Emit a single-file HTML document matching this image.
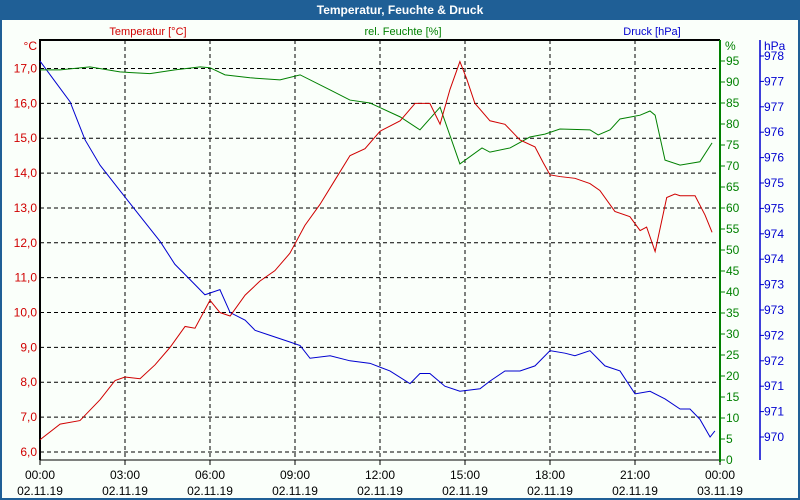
<!DOCTYPE html>
<html><head><meta charset="utf-8"><style>
body{margin:0;background:#fff;font-family:"Liberation Sans",sans-serif;}
svg{display:block}
</style></head><body>
<svg id="c" width="800" height="500" xmlns="http://www.w3.org/2000/svg">
<rect x="0" y="0" width="800" height="500" fill="#1f5f96"/>
<rect x="2" y="20" width="796" height="478" fill="#fafffa"/>
<text x="400" y="14" text-anchor="middle" fill="#fff" font-size="12" font-weight="bold">Temperatur, Feuchte &amp; Druck</text>
<text x="148" y="35" text-anchor="middle" fill="#d00000" font-size="11">Temperatur [°C]</text>
<text x="403" y="35" text-anchor="middle" fill="#008000" font-size="11">rel. Feuchte [%]</text>
<text x="652" y="35" text-anchor="middle" fill="#0000d0" font-size="11">Druck [hPa]</text>
<text x="37" y="50" text-anchor="end" fill="#d00000" font-size="12">°C</text>
<text x="725" y="50" fill="#008000" font-size="12">%</text>
<text x="764" y="50" fill="#0000d0" font-size="12">hPa</text>
<g id="grid"></g><g id="axes"></g><g id="series"></g>
</svg>
<script>
const tempHours=[0,0.71,1.41,2.12,2.65,3.0,3.53,4.06,4.59,5.12,5.47,6.0,6.35,6.71,7.24,7.76,8.29,8.82,9.35,9.88,10.41,10.94,11.47,12.0,12.71,13.24,13.76,14.12,14.47,14.82,15.06,15.35,15.88,16.41,16.94,17.47,17.76,18.0,18.35,18.88,19.41,19.76,20.29,20.82,21.18,21.41,21.71,22.12,22.41,22.59,23.12,23.47,23.72];
const tempValues=[6.35,6.8,6.9,7.5,8.05,8.15,8.1,8.5,9.0,9.6,9.55,10.35,10.0,9.9,10.5,10.9,11.2,11.7,12.5,13.1,13.8,14.5,14.7,15.2,15.5,16.0,16.0,15.4,16.4,17.2,16.7,16.0,15.5,15.4,14.95,14.75,14.3,13.95,13.9,13.85,13.7,13.5,12.9,12.75,12.35,12.45,11.75,13.3,13.4,13.35,13.35,12.8,12.3];
const humHours=[0,0.71,1.76,2.82,3.88,4.76,5.65,6.0,6.53,7.41,8.47,9.18,10.24,10.94,11.65,12.71,13.41,14.12,14.82,15.6,15.88,16.59,17.29,17.82,18.35,19.41,19.7,20.12,20.47,21.18,21.53,21.71,22.06,22.59,23.29,23.72];
const humValues=[92.9,92.9,93.6,92.4,92.0,92.9,93.6,93.4,91.7,91.0,90.5,91.7,88.1,85.7,85.0,81.7,78.6,84.0,70.5,74.3,73.3,74.3,76.9,77.6,78.8,78.6,77.4,78.6,81.2,82.1,83.1,82.1,71.4,70.2,71.0,75.5];
const presHours=[0,0.53,1.06,1.59,2.12,2.82,3.53,4.24,4.76,5.47,5.82,6.35,6.71,7.24,7.59,8.12,8.82,9.18,9.53,10.24,10.94,11.65,12.35,13.06,13.41,13.76,14.29,14.82,15.53,15.88,16.41,16.94,17.47,18.0,18.53,18.88,19.41,19.94,20.47,21.0,21.53,22.06,22.59,22.94,23.29,23.65,23.82];
const presValues=[977.9,977.5,977.1,976.35,975.85,975.35,974.85,974.35,973.9,973.5,973.3,973.4,972.95,972.8,972.6,972.5,972.37,972.3,972.05,972.1,972.0,971.95,971.8,971.55,971.75,971.75,971.5,971.4,971.45,971.6,971.8,971.8,971.9,972.2,972.15,972.1,972.2,971.9,971.8,971.35,971.4,971.25,971.05,971.05,970.85,970.5,970.62];
const tempTicks=[6,7,8,9,10,11,12,13,14,15,16,17];
const humTicks=[0,5,10,15,20,25,30,35,40,45,50,55,60,65,70,75,80,85,90,95];
const presTickValues=[978,977.5,977,976.5,976,975.5,975,974.5,974,973.5,973,972.5,972,971.5,971,970.5];
const presTickLabels=["978","977","977","976","976","975","975","974","974","973","973","972","972","971","971","970"];
const timeLabels=["00:00","03:00","06:00","09:00","12:00","15:00","18:00","21:00","00:00"];
const dateLabels=["02.11.19","02.11.19","02.11.19","02.11.19","02.11.19","02.11.19","02.11.19","02.11.19","03.11.19"];

const L=40,R=720,T=40,B=460;
const xS=h=>L+h*(R-L)/24;
const yT=v=>68.5+(17-v)*34.86;
const yH=v=>B-v*4.2;
const yP=v=>56+(978-v)*50.8;
const NS="http://www.w3.org/2000/svg";
function mk(tag,attrs,parent){const e=document.createElementNS(NS,tag);for(const k in attrs)e.setAttribute(k,attrs[k]);parent.appendChild(e);return e;}
const grid=document.getElementById('grid'),axes=document.getElementById('axes'),series=document.getElementById('series');
mk('rect',{x:L,y:T,width:R-L,height:B-T,fill:'#fafffa'},grid);
tempTicks.forEach(v=>{const y=yT(v);
 const g=mk('line',{x1:L,x2:R,y1:y,y2:y,stroke:'#000','stroke-dasharray':'4,3'},grid);
 
 
 const t=mk('text',{x:L-3,y:y+4,'text-anchor':'end',fill:'#d00000','font-size':'12'},axes);t.textContent=v.toFixed(1).replace('.',',');
 
 
});
timeLabels.forEach((s,i)=>{const x=xS(i*3);
 if(i>0&&i<8){const g=mk('line',{x1:x,x2:x,y1:T,y2:B,stroke:'#000','stroke-dasharray':'4,3'},grid);
 
 }
 mk('line',{x1:x,x2:x,y1:B,y2:B+5,stroke:'#000'},axes);
 const t=mk('text',{x:x,y:479,'text-anchor':'middle',fill:'#000','font-size':'12'},axes);t.textContent=s;
 
 
 const d=mk('text',{x:x,y:495,'text-anchor':'middle',fill:'#000','font-size':'12'},axes);d.textContent=dateLabels[i];
 
 
});
mk('polyline',{points:`${L},${B} ${L},${T} ${R},${T}`,fill:'none',stroke:'#000','stroke-width':2},axes);
mk('line',{x1:L,x2:R,y1:B,y2:B,stroke:'#000'},axes);
mk('line',{x1:R,x2:R,y1:T,y2:B+2,stroke:'#008000','stroke-width':2},axes);
humTicks.forEach(v=>{const y=yH(v);
 mk('line',{x1:R,x2:R+5,y1:y,y2:y,stroke:'#008000'},axes);
 const t=mk('text',{x:R+6,y:y+4,fill:'#008000','font-size':'12'},axes);t.textContent=v;
 
 
});
mk('line',{x1:760,x2:760,y1:40,y2:460,stroke:'#0000d0','stroke-width':1.5},axes);
presTickValues.forEach((v,i)=>{const y=yP(v);
 mk('line',{x1:760,x2:764,y1:y,y2:y,stroke:'#0000d0'},axes);
 const t=mk('text',{x:764,y:y+4,fill:'#0000d0','font-size':'12'},axes);t.textContent=presTickLabels[i];
 
 
});
function line(hs,vs,sc,col,name){const p=mk('polyline',{points:hs.map((h,i)=>xS(h)+','+sc(vs[i])).join(' '),fill:'none',stroke:col,'stroke-width':1},series);
 
 }
line(presHours,presValues,yP,'#0000d0','pressure-line');
line(humHours,humValues,yH,'#008000','humidity-line');
line(tempHours,tempValues,yT,'#d00000','temperature-line');
</script>
</body></html>
